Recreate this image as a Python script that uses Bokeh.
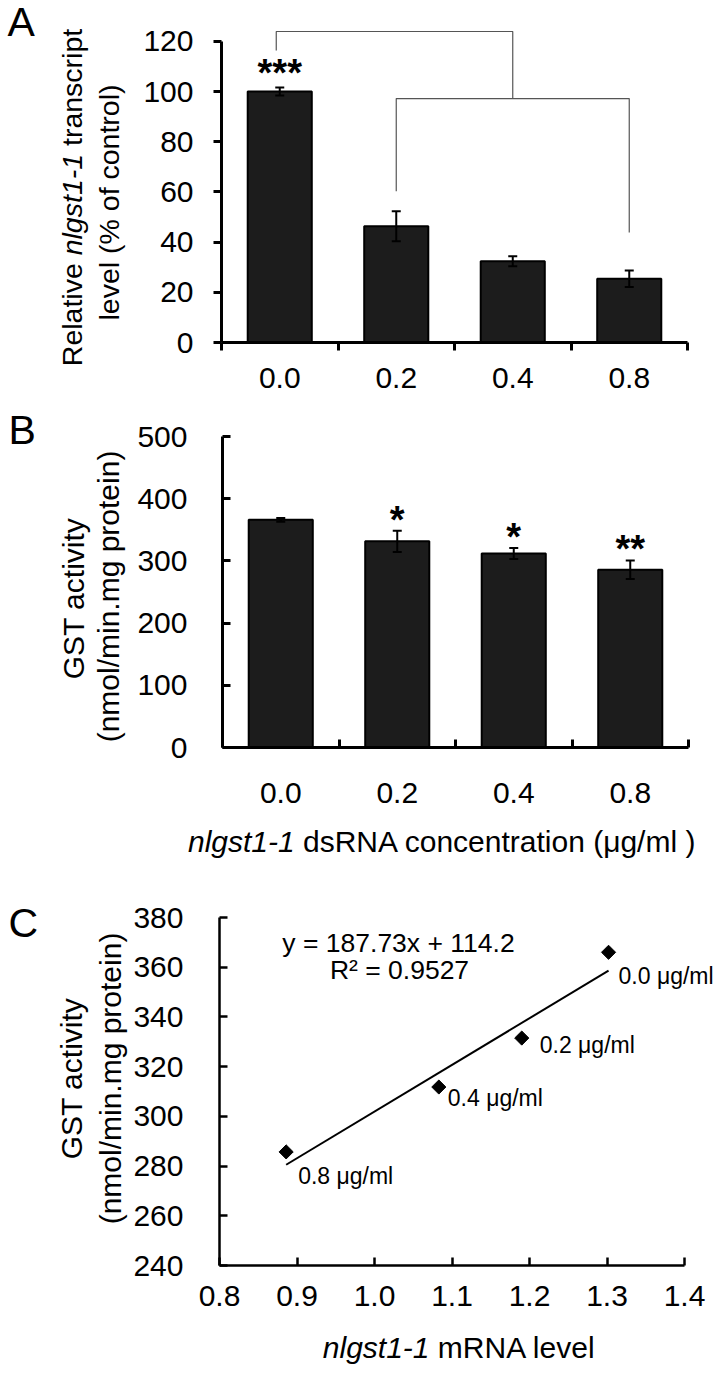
import math
from bokeh.plotting import figure
from bokeh.models import (ColumnDataSource, FixedTicker, Whisker, TeeHead, Label,
                          PrintfTickFormatter)
from bokeh.layouts import column, row
from bokeh.embed import file_html
from bokeh.resources import INLINE
from bokeh.core.properties import value

# ---------------- data ----------------
doses = ["0.0", "0.2", "0.4", "0.8"]

transcript_mean = [100.0, 46.3, 32.4, 25.4]
transcript_err = [1.6, 6.0, 2.0, 3.3]
transcript_sig = ["***", "", "", ""]

gst_mean = [366.0, 331.5, 311.8, 285.7]
gst_err = [3.0, 17.0, 8.8, 15.0]
gst_sig = ["", "*", "*", "**"]

mrna_level = [1.302, 1.190, 1.083, 0.886]
point_labels = [d + " μg/ml" for d in doses]
fit_slope = 187.73
fit_intercept = 114.2
fit_r2 = 0.9527

a_yticks = [0, 20, 40, 60, 80, 100, 120]
b_yticks = [0, 100, 200, 300, 400, 500]
c_yticks = [240, 260, 280, 300, 320, 340, 360, 380]
c_xticks = [0.8, 0.9, 1.0, 1.1, 1.2, 1.3, 1.4]

# bracket heights (panel A, % of control)
br_top = 123.9
br_top_left_leg = 116.3
br_low = 97.2
br_low_left_leg = 60.3
br_low_right_leg = 43.8

# ---------------- layout helpers ----------------
FONT = "Liberation Sans"
TOTAL_W = 716
SPLIT = 130  # width of the left text strip
TOTAL_H = 1370

AW = {' ': 278, '(': 333, ')': 333, '%': 889, '-': 333, '.': 278, '/': 278,
      '=': 584, '+': 584, '²': 333, 'μ': 576,
      'A': 667, 'B': 667, 'C': 722, 'D': 722, 'G': 778, 'N': 722, 'R': 722,
      'S': 667, 'T': 611,
      'a': 556, 'c': 500, 'd': 556, 'e': 556, 'f': 278, 'g': 556, 'i': 222,
      'l': 222, 'm': 833, 'n': 556, 'o': 556, 'p': 556, 'r': 333, 's': 500,
      't': 278, 'v': 500, 'x': 500, 'y': 500}


def tw(s, size):
    return sum(AW.get(c, 556) for c in s) / 1000.0 * size


def clean(p):
    p.outline_line_color = None
    p.background_fill_color = "white"
    p.border_fill_color = "white"


def make_main(top_ref, height, frame, xr, yr):
    fl, fr, ft, fb = frame
    p = figure(width=TOTAL_W - SPLIT, height=height, x_range=xr, y_range=yr,
               output_backend="svg", toolbar_location=None,
               min_border_left=fl - SPLIT, min_border_right=TOTAL_W - fr,
               min_border_top=ft - top_ref, min_border_bottom=top_ref + height - fb)
    p.xgrid.visible = False
    p.ygrid.visible = False
    clean(p)
    return p


def make_text_fig(x0, y0, w, h):
    p = figure(width=w, height=h, x_range=(0, w), y_range=(0, h),
               output_backend="svg", toolbar_location=None,
               x_axis_type=None, y_axis_type=None,
               min_border_left=0, min_border_right=0,
               min_border_top=0, min_border_bottom=0)
    p.grid.visible = False
    clean(p)

    def cx(X):
        return X - x0

    def cy(Y):
        return (y0 + h) - Y
    return p, (cx, cy)


def style_axis(ax, lw, standoff):
    ax.axis_line_width = lw
    ax.axis_line_color = "black"
    ax.major_tick_line_width = lw
    ax.major_tick_line_color = "black"
    ax.minor_tick_line_color = None
    ax.major_label_text_font = FONT
    ax.major_label_text_font_size = "30px"
    ax.major_label_text_color = "black"
    ax.major_label_standoff = standoff


def seg_text(p, conv, segs, size, cx_ref, cy_ref, vertical=False):
    cxf, cyf = conv
    total = sum(tw(s, size) for s, _ in segs)
    pos = (cy_ref + total / 2) if vertical else (cx_ref - total / 2)
    sp = tw(' ', size)
    for s, ital in segs:
        lead = len(s) - len(s.lstrip(' '))
        trail = len(s) - len(s.rstrip(' '))
        core = s.strip(' ')
        pos = pos - lead * sp if vertical else pos + lead * sp
        if core:
            if vertical:
                x, y = cxf(cx_ref), cyf(pos)
            else:
                x, y = cxf(pos), cyf(cy_ref)
            p.text(x=[x], y=[y], text=[core], angle=math.pi / 2 if vertical else 0,
                   text_align="left", text_baseline="middle",
                   text_font=value(FONT), text_font_size=f"{size}px",
                   text_font_style="italic" if ital else "normal",
                   text_color="black")
        wdt = tw(core, size) + trail * sp
        pos = pos - wdt if vertical else pos + wdt


def panel_letter(p, conv, letter, X, Y):
    cxf, cyf = conv
    p.text(x=[cxf(X)], y=[cyf(Y)], text=[letter], text_align="left",
           text_baseline="middle", text_font=value(FONT),
           text_font_size="41px", text_color="black")


def bars_with_errors(p, mean, err, sig, lw, star_up):
    idx = list(range(len(doses)))
    upper = [m + e for m, e in zip(mean, err)]
    src = ColumnDataSource(dict(x=idx, top=mean, upper=upper,
                                lower=[m - e for m, e in zip(mean, err)]))
    p.vbar(x="x", top="top", bottom=0, width=0.55, source=src,
           fill_color="#1c1c1c", line_color="black", line_width=2)
    wk = Whisker(source=src, base="x", upper="upper", lower="lower",
                 line_width=2, line_color="black", level="overlay",
                 upper_head=TeeHead(size=9, line_width=2, line_color="black"),
                 lower_head=TeeHead(size=9, line_width=2, line_color="black"))
    p.add_layout(wk)
    for i, s in enumerate(sig):
        if s:
            p.add_layout(Label(x=idx[i], y=upper[i], y_offset=star_up, text=s,
                               text_align="center", text_baseline="alphabetic",
                               text_font=FONT, text_font_size="38px",
                               text_font_style="bold", text_color="black"))
    xa = p.xaxis[0]
    xa.ticker = FixedTicker(ticks=idx, minor_ticks=[i - 0.5 for i in idx] + [idx[-1] + 0.5])
    xa.major_label_overrides = {i: d for i, d in enumerate(doses)}
    xa.major_tick_in = 0
    xa.major_tick_out = 0
    xa.major_tick_line_color = None
    xa.minor_tick_line_color = "black"
    xa.minor_tick_line_width = lw


# left strip holding panel letters and rotated y titles
strip, convS = make_text_fig(0, 0, SPLIT, TOTAL_H)

# ---------------- Panel A ----------------
A_TOP, A_H = 0, 410
frameA = (221, 687, 0, 342)
ymaxA = (342 - 0) / 2.51
pA = make_main(A_TOP, A_H, frameA, (-0.5, 3.5), (0, ymaxA))
style_axis(pA.xaxis[0], 3, 17)
style_axis(pA.yaxis[0], 3, 20)
bars_with_errors(pA, transcript_mean, transcript_err, transcript_sig, 3, 14)
pA.xaxis[0].minor_tick_in = 0
pA.xaxis[0].minor_tick_out = 8
ya = pA.yaxis[0]
ya.ticker = FixedTicker(ticks=a_yticks)
ya.bounds = (a_yticks[0], a_yticks[-1])
ya.major_tick_in = 0
ya.major_tick_out = 8

pA.line(x=[-0.03, -0.03, 2, 2], y=[br_top_left_leg, br_top, br_top, br_low],
        line_color="#555555", line_width=1.2)
pA.line(x=[1, 1, 3, 3], y=[br_low_left_leg, br_low, br_low, br_low_right_leg],
        line_color="#555555", line_width=1.2)

panel_letter(strip, convS, "A", 7, 21)
seg_text(strip, convS, [("Relative ", False), ("nlgst1-1", True), (" transcript", False)],
         28.5, 71, 197, vertical=True)
seg_text(strip, convS, [("level (% of control)", False)], 28.5, 108, 202, vertical=True)

# ---------------- Panel B ----------------
B_TOP, B_H = 410, 410
frameB = (222, 688, 436, 747)
pB = make_main(B_TOP, B_H, frameB, (-0.5, 3.5), (0, 500))
style_axis(pB.xaxis[0], 3, 35)
style_axis(pB.yaxis[0], 3, 35)
bars_with_errors(pB, gst_mean, gst_err, gst_sig, 3, 11)
pB.xaxis[0].minor_tick_in = 8
pB.xaxis[0].minor_tick_out = 0
yb = pB.yaxis[0]
yb.ticker = FixedTicker(ticks=b_yticks)
yb.major_tick_in = 8
yb.major_tick_out = 0

panel_letter(strip, convS, "B", 8, 429)
seg_text(strip, convS, [("GST activity", False)], 30, 73, 598, vertical=True)
seg_text(strip, convS, [("(nmol/min.mg protein)", False)], 30, 108, 596, vertical=True)

BT_TOP, BT_H = 820, 50
tBx, convBx = make_text_fig(SPLIT, BT_TOP, TOTAL_W - SPLIT, BT_H)
seg_text(tBx, convBx, [("nlgst1-1", True), (" dsRNA concentration (μg/ml )", False)],
         30, 442, 841)

# ---------------- Panel C ----------------
C_TOP, C_H = 870, 455
frameC = (219, TOTAL_W, 917, 1265)
c_px_per_unit = (684 - 219) / (c_xticks[-1] - c_xticks[0])
c_xend = c_xticks[0] + (TOTAL_W - 219) / c_px_per_unit
pC = make_main(C_TOP, C_H, frameC, (c_xticks[0], c_xend), (c_yticks[0], c_yticks[-1]))
style_axis(pC.xaxis[0], 2.5, 20)
style_axis(pC.yaxis[0], 2.5, 36)
xc = pC.xaxis[0]
xc.ticker = FixedTicker(ticks=c_xticks)
xc.bounds = (c_xticks[0], c_xticks[-1])
xc.formatter = PrintfTickFormatter(format="%.1f")
xc.major_tick_in = 8
xc.major_tick_out = 0
yc = pC.yaxis[0]
yc.ticker = FixedTicker(ticks=c_yticks)
yc.major_tick_in = 8
yc.major_tick_out = 0

fit_x = [min(mrna_level), max(mrna_level)]
fit_y = [fit_slope * v + fit_intercept for v in fit_x]
pC.line(x=fit_x, y=fit_y, line_color="black", line_width=2)
pC.scatter(x=mrna_level, y=gst_mean, marker="square", size=10, angle=math.pi / 4,
           fill_color="black", line_color="black")

# data-label offsets (pixels, right / down) for each point
lab_dx = [10, 18, 9, 12]
lab_dy = [24, 7, 11, 24]
for xv, yv, t, dx, dy in zip(mrna_level, gst_mean, point_labels, lab_dx, lab_dy):
    pC.add_layout(Label(x=xv, y=yv, x_offset=dx, y_offset=-dy, text=t,
                        text_align="left", text_baseline="middle",
                        text_font=FONT, text_font_size="23px", text_color="black"))


def c_x(X):
    return c_xticks[0] + (X - 219) / c_px_per_unit


def c_y(Y):
    return c_yticks[0] + (1265 - Y) / (1265 - 917) * (c_yticks[-1] - c_yticks[0])


pC.add_layout(Label(x=c_x(398), y=c_y(942), text=f"y = {fit_slope}x + {fit_intercept}",
                    text_align="center", text_baseline="middle",
                    text_font=FONT, text_font_size="26.5px", text_color="black"))
pC.add_layout(Label(x=c_x(399), y=c_y(969), text=f"R² = {fit_r2}",
                    text_align="center", text_baseline="middle",
                    text_font=FONT, text_font_size="26.5px", text_color="black"))

panel_letter(strip, convS, "C", 8, 922)
seg_text(strip, convS, [("GST activity", False)], 30, 71, 1078, vertical=True)
seg_text(strip, convS, [("(nmol/min.mg protein)", False)], 30, 110, 1078, vertical=True)

CT_TOP, CT_H = 1325, 45
tCx, convCx = make_text_fig(SPLIT, CT_TOP, TOTAL_W - SPLIT, CT_H)
seg_text(tCx, convCx, [("nlgst1-1", True), (" mRNA level", False)], 30, 459, 1347)

right = column(row(pA), row(pB), row(tBx), row(pC), row(tCx))
layout = row(strip, right)
open("out.html", "w").write(file_html(layout, INLINE))
